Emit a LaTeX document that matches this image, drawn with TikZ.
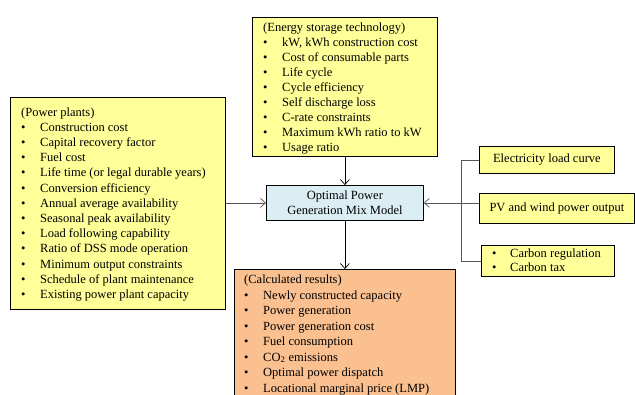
\documentclass[tikz,border=0pt]{standalone}
\usepackage{fontspec}
\setmainfont{Liberation Serif}
\usetikzlibrary{arrows.meta}
\definecolor{boxyellow}{HTML}{FFFF99}
\definecolor{boxblue}{HTML}{DAEEF3}
\definecolor{boxpeach}{HTML}{FAC090}
\definecolor{linegray}{HTML}{555555}
\newcommand{\itm}[1]{\makebox[19pt][l]{\textbullet}#1}
\newcommand{\bodyfont}{\fontsize{12.5}{15}\selectfont}
\tikzset{
  boxbase/.style={draw=black, line width=0.8pt, anchor=north west, inner sep=0pt},
  ybox/.style={boxbase, fill=boxyellow},
  txt/.style={anchor=base west, inner sep=0pt, font=\bodyfont},
  arr/.style={-{Straight Barb[length=5pt,width=9pt]}, line width=0.7pt},
}
\begin{document}
\begin{tikzpicture}[x=1pt,y=-1pt]
\useasboundingbox (0,0) rectangle (635,394);
\clip (0,0) rectangle (635,394);
\fill[white] (0,0) rectangle (635,394);

% boxes
\node[ybox, minimum width=185pt, minimum height=139pt] (storage) at (252,17) {};
\node[ybox, minimum width=215pt, minimum height=212pt] (power) at (10,97) {};
\node[boxbase, fill=boxblue, minimum width=157pt, minimum height=35pt, align=center, font=\fontsize{12.5}{14.7}\selectfont] (model) at (266,185) {Optimal Power\\Generation Mix Model};
\node[boxbase, fill=boxpeach, minimum width=221pt, minimum height=150pt] (results) at (234,269) {};
\node[ybox, minimum height=27pt, minimum width=135pt, font=\bodyfont] (elec) at (479,146) {Electricity load curve};
\node[ybox, minimum height=30pt, minimum width=155pt, font=\bodyfont] (pv) at (479,193) {PV and wind power output};
\node[ybox, minimum width=133pt, minimum height=31pt] (carbon) at (481,245) {};

% texts
\node[txt] (storage-t) at (263,31) {\parbox[t]{175pt}{\baselineskip=15.1pt
(Energy storage technology)\\
\itm{kW, kWh construction cost}\\
\itm{Cost of consumable parts}\\
\itm{Life cycle}\\
\itm{Cycle efficiency}\\
\itm{Self discharge loss}\\
\itm{C-rate constraints}\\
\itm{Maximum kWh ratio to kW}\\
\itm{Usage ratio}}};

\node[txt] (power-t) at (21,116) {\parbox[t]{200pt}{\baselineskip=15.2pt
(Power plants)\\
\itm{Construction cost}\\
\itm{Capital recovery factor}\\
\itm{Fuel cost}\\
\itm{Life time (or legal durable years)}\\
\itm{Conversion efficiency}\\
\itm{Annual average availability}\\
\itm{Seasonal peak availability}\\
\itm{Load following capability}\\
\itm{Ratio of DSS mode operation}\\
\itm{Minimum output constraints}\\
\itm{Schedule of plant maintenance}\\
\itm{Existing power plant capacity}}};

\node[txt] (results-t) at (244,283.5) {\parbox[t]{205pt}{\baselineskip=15.5pt
(Calculated results)\\
\itm{Newly constructed capacity}\\
\itm{Power generation}\\
\itm{Power generation cost}\\
\itm{Fuel consumption}\\
\itm{CO\textsubscript{2} emissions}\\
\itm{Optimal power dispatch}\\
\itm{Locational marginal price (LMP)}}};

\node[txt] (carbon-t) at (492,257.5) {\parbox[t]{120pt}{\baselineskip=14.3pt
\makebox[18pt][l]{\textbullet}Carbon regulation\\
\makebox[18pt][l]{\textbullet}Carbon tax}};

% connectors
\draw[arr] (storage.south) -- (model.north);
\draw[arr] (model.south) -- (results.north);
\draw[arr, linegray] (power.east |- model.west) -- (model.west);
\draw[arr, linegray] (pv.west |- model.east) -- (model.east);
\draw[linegray, line width=0.7pt] (elec.west) -- ++(-18,0) coordinate (bk) |- (carbon.west);
\end{tikzpicture}
\end{document}
